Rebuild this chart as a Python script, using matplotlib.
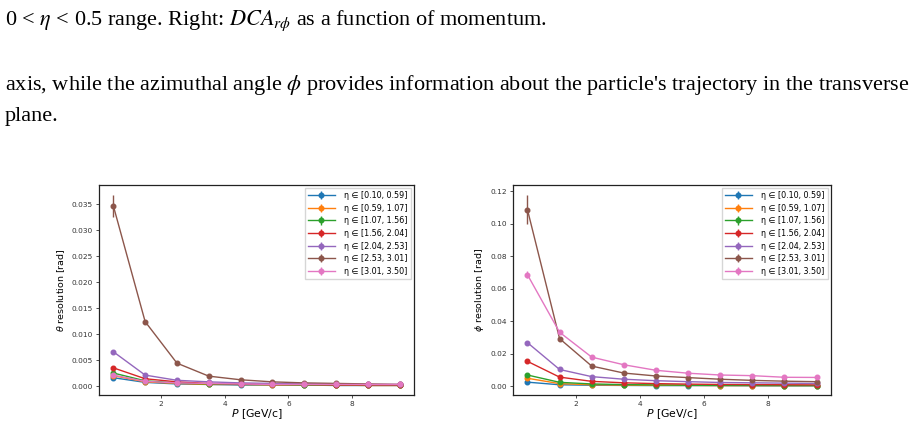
import matplotlib
matplotlib.use("Agg")
import matplotlib.pyplot as plt
import numpy as np

# ---- data ----
momentum = [0.5, 1.5, 2.5, 3.5, 4.5, 5.5, 6.5, 7.5, 8.5, 9.5]
eta_bins = ["[0.10, 0.59]", "[0.59, 1.07]", "[1.07, 1.56]", "[1.56, 2.04]",
            "[2.04, 2.53]", "[2.53, 3.01]", "[3.01, 3.50]"]

theta_res = [
    [0.0016, 0.0007, 0.0004, 0.0003, 0.0002, 0.0002, 0.0002, 0.0001, 0.0001, 0.0001],
    [0.0020, 0.0008, 0.0005, 0.0003, 0.0003, 0.0002, 0.0002, 0.0002, 0.0001, 0.0001],
    [0.0025, 0.0010, 0.0006, 0.0004, 0.0003, 0.0003, 0.0002, 0.0002, 0.0002, 0.0002],
    [0.0035, 0.0014, 0.0008, 0.0005, 0.0004, 0.0003, 0.0003, 0.0002, 0.0002, 0.0002],
    [0.0066, 0.0021, 0.0011, 0.0008, 0.0006, 0.0005, 0.0004, 0.0004, 0.0003, 0.0003],
    [0.0347, 0.0124, 0.0044, 0.0019, 0.0012, 0.0008, 0.0006, 0.0005, 0.0004, 0.0003],
    [0.0021, 0.0009, 0.0006, 0.0005, 0.0004, 0.0003, 0.0003, 0.0003, 0.0003, 0.0003],
]
theta_err = [
    [0.0001, 0.00005, 0.00003, 0.00002, 0.00002, 0.00001, 0.00001, 0.00001, 0.00001, 0.00001],
    [0.0001, 0.00005, 0.00003, 0.00002, 0.00002, 0.00001, 0.00001, 0.00001, 0.00001, 0.00001],
    [0.0001, 0.00005, 0.00003, 0.00002, 0.00002, 0.00001, 0.00001, 0.00001, 0.00001, 0.00001],
    [0.0001, 0.00005, 0.00003, 0.00002, 0.00002, 0.00001, 0.00001, 0.00001, 0.00001, 0.00001],
    [0.0002, 0.00008, 0.00004, 0.00003, 0.00002, 0.00002, 0.00001, 0.00001, 0.00001, 0.00001],
    [0.0021, 0.0003, 0.0001, 0.00005, 0.00004, 0.00003, 0.00002, 0.00002, 0.00002, 0.00001],
    [0.0001, 0.00005, 0.00003, 0.00002, 0.00002, 0.00001, 0.00001, 0.00001, 0.00001, 0.00001],
]

phi_res = [
    [0.0024, 0.0008, 0.0005, 0.0004, 0.0003, 0.0003, 0.0003, 0.0002, 0.0002, 0.0002],
    [0.0048, 0.0015, 0.0008, 0.0006, 0.0005, 0.0004, 0.0003, 0.0003, 0.0003, 0.0003],
    [0.0068, 0.0023, 0.0013, 0.0009, 0.0007, 0.0005, 0.0004, 0.0004, 0.0003, 0.0003],
    [0.0152, 0.0055, 0.0029, 0.0020, 0.0015, 0.0012, 0.0010, 0.0009, 0.0008, 0.0007],
    [0.0267, 0.0102, 0.0058, 0.0042, 0.0033, 0.0027, 0.0022, 0.0020, 0.0018, 0.0016],
    [0.1085, 0.0292, 0.0123, 0.0080, 0.0062, 0.0052, 0.0042, 0.0035, 0.0030, 0.0027],
    [0.0685, 0.0331, 0.0178, 0.0131, 0.0097, 0.0079, 0.0068, 0.0064, 0.0054, 0.0053],
]
phi_err = [
    [0.0002, 0.0001, 0.00005, 0.00003, 0.00003, 0.00002, 0.00002, 0.00002, 0.00002, 0.00002],
    [0.0003, 0.0001, 0.00005, 0.00003, 0.00003, 0.00002, 0.00002, 0.00002, 0.00002, 0.00002],
    [0.0004, 0.0001, 0.00006, 0.00004, 0.00003, 0.00003, 0.00002, 0.00002, 0.00002, 0.00002],
    [0.0006, 0.0002, 0.0001, 0.00008, 0.00006, 0.00005, 0.00004, 0.00004, 0.00003, 0.00003],
    [0.0008, 0.0003, 0.0002, 0.0001, 0.0001, 0.00008, 0.00007, 0.00006, 0.00005, 0.00005],
    [0.0090, 0.0008, 0.0004, 0.0002, 0.0002, 0.0001, 0.0001, 0.0001, 0.0001, 0.0001],
    [0.0020, 0.0007, 0.0004, 0.0003, 0.0002, 0.0002, 0.0002, 0.0002, 0.0001, 0.0001],
]

colors = ["#1f77b4", "#ff7f0e", "#2ca02c", "#d62728", "#9467bd", "#8c564b", "#e377c2"]

W, H = 919, 424
fig = plt.figure(figsize=(W / 100, H / 100), dpi=100)

# ---- page text ----
serif = "Liberation Serif"
kw = dict(fontsize=16.05, family=serif, va="baseline", ha="left", math_fontfamily="stix")
fig.text(5 / W, 1 - 25 / H,
         r"0 < $\eta$ < 0.5 range. Right: $DCA_{r\phi}$ as a function of momentum.", **kw)
fig.text(5 / W, 1 - 90 / H,
         r"axis, while the azimuthal angle $\phi$ provides information about the particle's trajectory in the transverse",
         **kw)
fig.text(5 / W, 1 - 121 / H, "plane.", **kw)


def make_axes(x0, x1, y0, y1):
    return fig.add_axes([x0 / W, 1 - y1 / H, (x1 - x0) / W, (y1 - y0) / H])


ax1 = make_axes(99, 414, 185, 395)
ax2 = make_axes(513, 831, 185, 395)

for ax, data, errs, ylab, ylim, fmt in [
    (ax1, theta_res, theta_err, r"$\theta$ resolution [rad]", (-0.00173, 0.0387), "%.3f"),
    (ax2, phi_res, phi_err, r"$\phi$ resolution [rad]", (-0.0055, 0.1237), "%.2f"),
]:
    for i in range(len(eta_bins)):
        ax.errorbar(momentum, data[i], yerr=errs[i], color=colors[i], marker="o",
                    markersize=3.3, linewidth=1.0, elinewidth=1.0,
                    label="η ∈ " + eta_bins[i])
    ax.set_xlim(0.05, 9.95)
    ax.set_ylim(*ylim)
    ax.set_xticks([2, 4, 6, 8])
    ax.yaxis.set_major_formatter(matplotlib.ticker.FormatStrFormatter(fmt))
    ax.tick_params(labelsize=5.3, length=2.5, width=0.6, pad=2, colors="#333333",
                   labelcolor="#333333")
    ax.set_xlabel(r"$P$ [GeV/c]", fontsize=7.8, labelpad=0)
    ax.set_ylabel(ylab, fontsize=6.8, labelpad=3)
    for s in ax.spines.values():
        s.set_linewidth(0.9)
        s.set_color("#222222")
    ax.legend(loc="upper right", fontsize=5.8, handlelength=3.3, handletextpad=1.2,
              borderpad=0.4, labelspacing=0.45, borderaxespad=0.35, frameon=True,
              fancybox=False, edgecolor="#cccccc")

fig.savefig("out.png", dpi=100)
